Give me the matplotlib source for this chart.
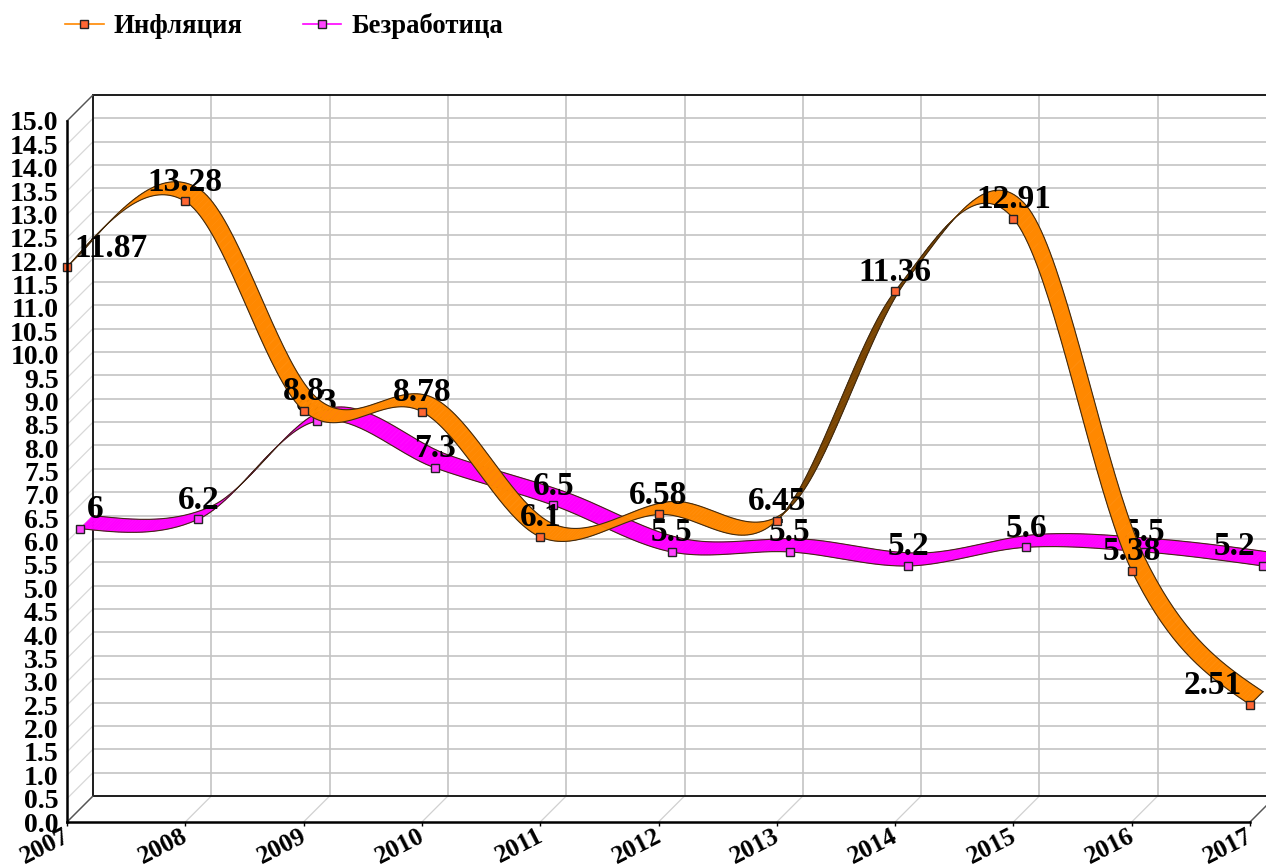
import numpy as np
import matplotlib
matplotlib.use('Agg')
import matplotlib.pyplot as plt
from matplotlib.collections import PolyCollection
from matplotlib.lines import Line2D
from matplotlib.transforms import Affine2D

years = [2007, 2008, 2009, 2010, 2011, 2012, 2013, 2014, 2015, 2016, 2017]
inflation = [11.87, 13.28, 8.8, 8.78, 6.1, 6.58, 6.45, 11.36, 12.91, 5.38, 2.51]
unemployment = [6, 6.2, 8.3, 7.3, 6.5, 5.5, 5.5, 5.2, 5.6, 5.5, 5.2]
yticks = np.arange(0, 15.5, 0.5)

plt.rcParams['font.family'] = ['Liberation Serif', 'DejaVu Serif']
plt.rcParams['font.weight'] = 'bold'

W, H = 1266, 868
fig = plt.figure(figsize=(W / 100, H / 100), dpi=100)
ax = fig.add_axes([67 / W, (H - 822) / H, 1183 / W, 701 / H])
ax.set_xlim(2007, 2017)
ax.set_ylim(0, 15)

# px -> data units, the chart fakes depth with a 45 degree shift
px_x = 10 / 1183
px_y = 15 / 701
DEPTH = 26


def shift(d):
    return d * px_x, d * px_y


def spline(xs, ys, n=40):
    # hermite curve with catmull-rom tangents, keeps the overshoot small
    xs = np.array(xs, float)
    ys = np.array(ys, float)
    m = np.zeros(len(ys))
    m[1:-1] = (ys[2:] - ys[:-2]) / 2
    m[0] = (3 * (ys[1] - ys[0]) - m[1]) / 2
    m[-1] = (3 * (ys[-1] - ys[-2]) - m[-2]) / 2
    t = np.linspace(xs[0], xs[-1], n * (len(xs) - 1) + 1)
    k = np.clip(np.floor(t - xs[0]).astype(int), 0, len(xs) - 2)
    u = t - xs[k]
    y = ((2 * u ** 3 - 3 * u ** 2 + 1) * ys[k] + (u ** 3 - 2 * u ** 2 + u) * m[k]
         + (-2 * u ** 3 + 3 * u ** 2) * ys[k + 1] + (u ** 3 - u ** 2) * m[k + 1])
    return t, y


def ribbon(vals, d0, d1, col, dark, z):
    t, y = spline(years, vals)
    x0, y0 = shift(d0)
    x1, y1 = shift(d1)
    quads = []
    cols = []
    for i in range(len(t) - 1):
        quads.append([(t[i] + x0, y[i] + y0), (t[i + 1] + x0, y[i + 1] + y0),
                      (t[i + 1] + x1, y[i + 1] + y1), (t[i] + x1, y[i] + y1)])
        # steeper than the depth direction: we see the dark underside
        steep = (y[i + 1] - y[i]) / px_y > (t[i + 1] - t[i]) / px_x
        cols.append(dark if steep else col)
    ax.add_collection(PolyCollection(quads, facecolors=cols, edgecolors=cols, linewidths=0.4,
                                     zorder=z, clip_on=False))
    ax.plot(t + x0, y + y0, color='#402a10', lw=0.8, zorder=z + 0.1, clip_on=False)
    ax.plot(t + x1, y + y1, color='#402a10', lw=0.8, zorder=z + 0.1, clip_on=False)
    ax.plot([t[-1] + x0, t[-1] + x1], [y[-1] + y0, y[-1] + y1], color='#402a10', lw=0.8, zorder=z + 0.1, clip_on=False)


def points(vals, d, col, z):
    x0, y0 = shift(d)
    xs = np.array(years) + x0
    ax.plot(xs, np.array(vals) + y0, ls='none', marker='s', ms=5.5, mfc=col, mec='#222222', mew=1,
            zorder=z, clip_on=False)
    for i, v in enumerate(vals):
        # end labels are pushed inside the plot
        ha, dx = 'center', 0
        if i == 0:
            ha, dx = 'left', 7
        elif i == len(vals) - 1:
            ha, dx = 'right', -8
        ax.annotate(str(v), (xs[i], v + y0), xytext=(dx, 19), textcoords='offset pixels', ha=ha, va='center',
                    fontsize=24, fontweight='bold', color='black', zorder=z + 0.1, annotation_clip=False)


# walls
dx, dy = shift(DEPTH)
for v in yticks:
    ax.plot([2007 + dx, 2017 + 2 * dx], [v + dy, v + dy], color='#c4c4c4', lw=1.2, zorder=1, clip_on=False)
    ax.plot([2007, 2007 + dx], [v, v + dy], color='#d8d8d8', lw=0.9, zorder=1, clip_on=False)
for yr in years:
    ax.plot([yr + dx, yr + dx], [dy, 15 + dy], color='#c4c4c4', lw=1.2, zorder=1, clip_on=False)
    ax.plot([yr, yr + dx], [0, dy], color='#d0d0d0', lw=0.9, zorder=1, clip_on=False)
ax.plot([2007 + dx, 2007 + dx], [dy, 15 + dy], color='black', lw=1.2, zorder=2, clip_on=False)
ax.plot([2007 + dx, 2017 + 2 * dx], [15 + dy, 15 + dy], color='black', lw=1.2, zorder=2, clip_on=False)
ax.plot([2007 + dx, 2017 + 2 * dx], [dy, dy], color='black', lw=1.2, zorder=2, clip_on=False)
ax.plot([2007, 2007 + dx], [0, dy], color='#555555', lw=1, zorder=2, clip_on=False)
ax.plot([2007, 2007 + dx], [15, 15 + dy], color='#555555', lw=1, zorder=2, clip_on=False)
ax.plot([2017, 2017 + dx], [0, dy], color='#555555', lw=1, zorder=2, clip_on=False)

ribbon(unemployment, 13, 26, '#ff00ff', '#800080', 3)
points(unemployment, 13, '#ff44ff', 4)
ribbon(inflation, 0, 13, '#ff8800', '#7a4400', 5)
points(inflation, 0, '#ff6633', 6)

for s in ['top', 'right']:
    ax.spines[s].set_visible(False)
ax.patch.set_visible(False)
for s in ['left', 'bottom']:
    ax.spines[s].set_linewidth(1.8)
    ax.spines[s].set_zorder(7)

ax.set_yticks(yticks)
ax.set_yticklabels(['%.1f' % v for v in yticks], fontsize=20, fontweight='bold')
ax.set_xticks(years)
ax.set_xticklabels(years, fontsize=18.5, fontweight='bold', rotation=27, ha='right', rotation_mode='anchor')
ax.tick_params(axis='y', length=0, pad=6)
ax.tick_params(axis='x', length=3, width=1, pad=1)
for lab in ax.get_xticklabels():
    lab.set_transform(lab.get_transform() + Affine2D().translate(-4, 3))

handles = [
    Line2D([], [], color='#ff8800', lw=1.2, marker='s', ms=5.5, mfc='#ff6633', mec='#222222', mew=1),
    Line2D([], [], color='#ff00ff', lw=1.2, marker='s', ms=5.5, mfc='#ff44ff', mec='#222222', mew=1),
]
fig.legend(handles, ['Инфляция', 'Безработица'], ncol=2, frameon=False, loc='center left',
           bbox_to_anchor=(65 / W, 1 - 26 / H), borderaxespad=0, borderpad=0,
           prop={'size': 19.2, 'weight': 'bold'}, handlelength=1.46, handletextpad=0.36, columnspacing=2.25)

fig.savefig('out.png', dpi=100)
